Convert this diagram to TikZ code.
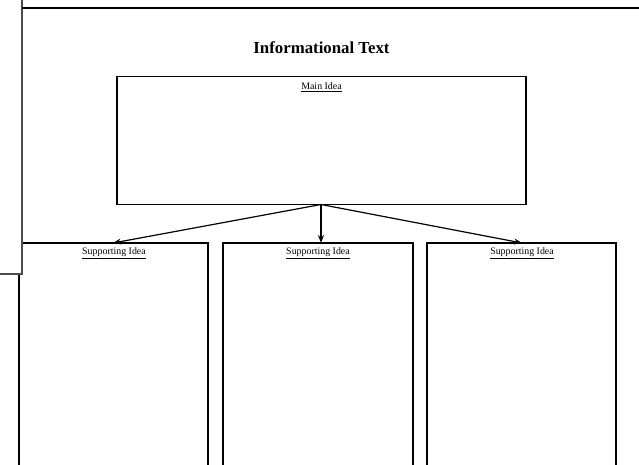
\documentclass[tikz,border=0pt]{standalone}
\usepackage{fontspec}
\setmainfont{Liberation Serif}
\usetikzlibrary{arrows.meta}
\begin{document}
\begin{tikzpicture}[x=1pt,y=-1pt,
  box/.style={draw=black,line width=1.4pt},
  frameline/.style={draw=black!70,line width=1.2pt},
  conn/.style={draw=black,line width=1.2pt,-{Stealth[length=8pt,width=6pt]}},
  lbl/.style={font=\fontsize{9.9}{11}\selectfont,inner sep=0pt}]
\useasboundingbox (0,0) rectangle (639,465);
% supporting boxes
\draw[box] (19,470) -- (19,243) -- (208,243) -- (208,470);
\draw[box] (223,470) -- (223,243) -- (413,243) -- (413,470);
\draw[box] (427,470) -- (427,243) -- (616,243) -- (616,470);
\coordinate (s1) at (113,243);
\coordinate (s2) at (321,243);
\coordinate (s3) at (522,243);
% frame
\fill[white] (-2,-2) rectangle (22,274);
\draw[frameline] (22,-2) -- (22,274) -- (-2,274);
\draw[box,line width=1.3pt] (22,8) -- (641,8);
% title
\node[font=\fontsize{16.8}{19}\selectfont\bfseries,inner sep=0pt] (title) at (321.5,48) {Informational Text};
% main box
\node[box,minimum width=409pt,minimum height=128pt,inner sep=0pt] (main) at (321.5,140.5) {};
\node[lbl,anchor=north] (mainlbl) at (321.5,82.5) {\underline{Main Idea}};
\node[lbl,anchor=north] (sup1) at (114,247.5) {\underline{Supporting Idea}};
\node[lbl,anchor=north] (sup2) at (318,247.5) {\underline{Supporting Idea}};
\node[lbl,anchor=north] (sup3) at (522,247.5) {\underline{Supporting Idea}};
\coordinate (m) at (321,204.5);
\draw[conn] (m) -- (s1);
\draw[conn] (m) -- (s2);
\draw[conn] (m) -- (s3);
\end{tikzpicture}
\end{document}
